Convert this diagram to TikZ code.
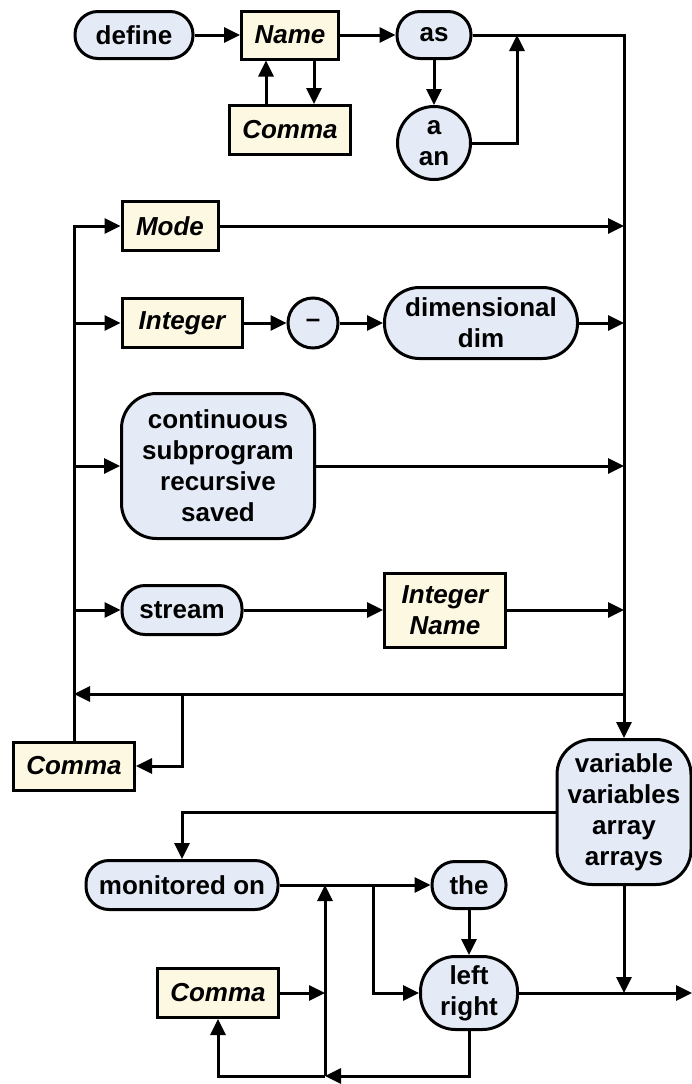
\documentclass[tikz,border=0pt]{standalone}
\usepackage{fontspec}
\setmainfont{Liberation Sans}
\usetikzlibrary{arrows.meta}
\definecolor{kwfill}{RGB}{228,235,247}
\definecolor{ntfill}{RGB}{253,248,226}

\begin{document}
\begin{tikzpicture}[x=1pt,y=-1pt,line width=3pt,
  every node/.style={inner sep=0pt,align=center},
  arr/.style={-{Triangle[length=16pt,width=15pt]}},
  kw/.style={draw,fill=kwfill,rectangle,rounded corners=#1,
    font=\bfseries\fontsize{26}{31}\selectfont},
  kw/.default=23pt,
  kwcirc/.style={draw,fill=kwfill,circle,
    font=\bfseries\fontsize{26}{31}\selectfont},
  nt/.style={draw,fill=ntfill,rectangle,
    font=\bfseries\itshape\fontsize{26}{31}\selectfont}]

\useasboundingbox (0,0) rectangle (692,1084);

% header: define Name {Comma Name} as [a|an]
\node[kw,minimum width=118pt,minimum height=47pt] (define) at (134,35) {define};
\node[nt,minimum width=97pt,minimum height=48pt] (name) at (290,35) {Name};
\node[nt,minimum width=121pt,minimum height=49pt] (comma1) at (290,130) {Comma};
\node[kw,minimum width=74pt,minimum height=47pt] (as) at (434,35) {as};
\node[kwcirc,minimum size=73pt] (aan) at (434,143) {a\\an};

% attribute alternatives
\node[nt,minimum width=96pt,minimum height=49pt] (mode) at (170,226) {Mode};
\node[nt,minimum width=120pt,minimum height=49pt] (integer) at (182,323) {Integer};
\node[kwcirc,minimum size=50pt] (minus) at (313,323) {--};
\node[kw=35pt,minimum width=193pt,minimum height=71pt] (dim) at (481,323) {dimensional\\dim};
\node[kw=35pt,minimum width=193pt,minimum height=145pt] (cont) at (218,466) {continuous\\subprogram\\recursive\\saved};
\node[kw,minimum width=120pt,minimum height=49pt] (stream) at (182,610) {stream};
\node[nt,minimum width=121pt,minimum height=74pt] (intname) at (445,610) {Integer\\Name};
\node[nt,minimum width=121pt,minimum height=48pt] (comma2) at (74,766) {Comma};

% tail: variable ... monitored on [the] left|right
\node[kw=35pt,minimum width=134pt,minimum height=145pt] (var) at (624,812) {variable\\variables\\array\\arrays};
\node[kw,minimum width=192pt,minimum height=49pt] (mon) at (182,885) {monitored on};
\node[kw,minimum width=74pt,minimum height=47pt] (the) at (469,885) {the};
\node[kw=35pt,minimum width=97pt,minimum height=73pt] (lr) at (469,993) {left\\right};
\node[nt,minimum width=121pt,minimum height=49pt] (comma3) at (218,993) {Comma};

% junction points
\coordinate (jA) at (517,35);
\coordinate (rTop) at (624,35);
\coordinate (rMode) at (624,226);
\coordinate (rInt) at (624,323);
\coordinate (rCont) at (624,466);
\coordinate (rStream) at (624,610);
\coordinate (rRet) at (624,694);
\coordinate (lMode) at (74,226);
\coordinate (lInt) at (74,323);
\coordinate (lCont) at (74,466);
\coordinate (lStream) at (74,610);
\coordinate (lRet) at (74,694);
\coordinate (retSplit) at (182,694);
\coordinate (jMon) at (325,885);
\coordinate (jThe) at (373,885);
\coordinate (jCom) at (325,993);
\coordinate (jBot) at (325,1076);
\coordinate (jEnd) at (624,993);
\coordinate (exit) at (692,993);

% header connectors
\draw[arr] (define) -- (name);
\draw[arr] (name) -- (as);
\draw[arr] ([xshift=24pt]name.south) -- ([xshift=24pt]comma1.north);
\draw[arr] ([xshift=-24pt]comma1.north) -- ([xshift=-24pt]name.south);
\draw[arr] (as) -- (aan);
\draw[arr] (aan.east) -| (jA);
\draw[arr] (as.east) -- (rTop) -- (var.north);

% left rail and branches
\draw[arr] (comma2.north) -- (lMode) -- (mode.west);
\draw[arr] (lInt) -- (integer.west);
\draw[arr] (lCont) -- (cont.west);
\draw[arr] (lStream) -- (stream.west);

% branch bodies
\draw[arr] (mode.east) -- (rMode);
\draw[arr] (integer) -- (minus);
\draw[arr] (minus) -- (dim);
\draw[arr] (dim.east) -- (rInt);
\draw[arr] (cont.east) -- (rCont);
\draw[arr] (stream) -- (intname);
\draw[arr] (intname.east) -- (rStream);

% repeat loop through Comma
\draw[arr] (rRet) -- (lRet);
\draw[arr] (retSplit) |- (comma2.east);

% tail connectors
\draw[arr] (var.west) -| (mon.north);
\draw[arr] (mon.east) -- (the.west);
\draw[arr] (jThe) |- (lr.west);
\draw[arr] (the) -- (lr);
\draw[arr] (lr.east) -- (exit);
\draw[arr] (var.south) -- (jEnd);
\draw[arr] (lr.south) |- (jBot);
\draw[arr] (jBot) -- (jMon);
\draw[arr] (jBot) -| (comma3.south);
\draw[arr] (comma3.east) -- (jCom);

\end{tikzpicture}
\end{document}
